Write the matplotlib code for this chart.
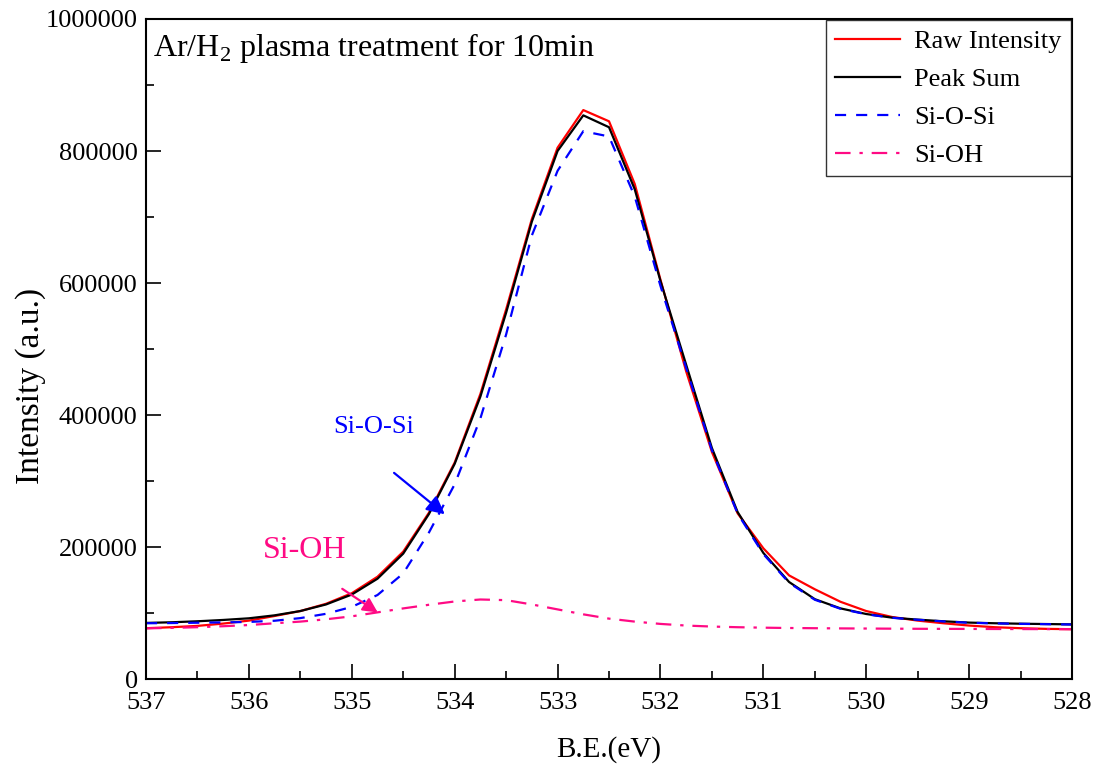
import matplotlib
matplotlib.use('Agg')
import matplotlib.pyplot as plt
from matplotlib.ticker import MultipleLocator, FuncFormatter
import numpy as np

plt.rcParams['font.family'] = ['Liberation Serif', 'DejaVu Serif']
plt.rcParams['mathtext.fontset'] = 'custom'
plt.rcParams['mathtext.rm'] = 'Liberation Serif'

RED = '#FF0000'; BLACK = '#000000'; BLUE = '#0000FF'; PINK = '#FF0A84'

# binding energy (eV), 0.25 eV steps
be = np.arange(537.0, 527.99, -0.25)

raw = [77000, 78500, 80500, 84000, 88500, 95500, 103000, 114000, 130000, 155000,
       193000, 252000, 328000, 432000, 560000, 697000, 805000, 862000, 845000, 750000,
       605000, 466000, 344000, 251000, 198000, 157000, 136000, 117000, 103000, 94000,
       88500, 84500, 81000, 78500, 77000, 76000, 75500]

peak_sum = [85000, 86000, 87500, 89500, 92000, 96500, 103000, 113000, 128000, 152000,
            190000, 250000, 326000, 428000, 555000, 693000, 800000, 854000, 836000, 742000,
            603000, 476000, 350000, 253000, 191000, 147000, 121000, 107000, 98500, 93000,
            90000, 87500, 85500, 84500, 83800, 83300, 82800]

si_o_si = [84500, 84800, 85300, 85800, 86500, 88300, 92300, 98800, 109300, 127300,
           160000, 222000, 295000, 395000, 522000, 672000, 770000, 830000, 822000, 731000,
           595600, 471100, 346600, 250600, 189300, 145800, 120100, 106400, 98100, 92800,
           89800, 87300, 85300, 84300, 83600, 83100, 82600]

si_oh = [76800, 77500, 78500, 80000, 81800, 84500, 87000, 90500, 95000, 101000,
         107000, 112500, 117500, 120500, 119500, 113000, 105500, 98000, 91500, 87000,
         83500, 81000, 79500, 78500, 77800, 77300, 77000, 76700, 76500, 76300,
         76100, 76000, 75900, 75800, 75700, 75600, 75500]

fig = plt.figure(figsize=(11.01, 7.69), dpi=100)
ax = fig.add_axes([0.1326, 0.117, 0.8411, 0.8583])

ax.plot(be, raw, color=RED, lw=1.6, label='Raw Intensity')
ax.plot(be, peak_sum, color=BLACK, lw=1.6, label='Peak Sum')
ax.plot(be, si_o_si, color=BLUE, lw=1.6, ls=(0, (5, 4.5)), label='Si-O-Si')
ax.plot(be, si_oh, color=PINK, lw=1.6, ls=(0, (7, 4, 1.5, 4)), label='Si-OH')

ax.set_xlim(537, 528)
ax.set_ylim(0, 1000000)
ax.xaxis.set_major_locator(MultipleLocator(1))
ax.xaxis.set_minor_locator(MultipleLocator(0.5))
ax.yaxis.set_major_locator(MultipleLocator(200000))
ax.yaxis.set_minor_locator(MultipleLocator(100000))
ax.xaxis.set_major_formatter(FuncFormatter(lambda v, p: f'{v:.0f}'))
ax.yaxis.set_major_formatter(FuncFormatter(lambda v, p: f'{v:.0f}'))
ax.tick_params(which='both', direction='in', top=False, right=False, labelsize=19, width=1.2)
ax.tick_params(which='major', length=11)
ax.tick_params(which='minor', length=6)
ax.tick_params(axis='x', pad=9)
ax.tick_params(axis='y', pad=6)
for s in ax.spines.values():
    s.set_linewidth(1.5)

ax.set_xlabel('B.E.(eV)', fontsize=21, labelpad=16)
ax.set_ylabel('Intensity (a.u.)', fontsize=24)
ax.yaxis.set_label_coords(-0.108, 0.444)

ax.text(0.008, 0.982, 'Ar/H$_2$ plasma treatment for 10min', transform=ax.transAxes,
        fontsize=23, va='top', ha='left')

leg = ax.legend(loc='upper right', fontsize=19, frameon=True, fancybox=False,
                borderaxespad=0.05, handlelength=2.45, handletextpad=0.55,
                labelspacing=0.55, borderpad=0.35)
leg.get_frame().set_edgecolor('black')
leg.get_frame().set_linewidth(1.0)

ax.annotate('', xy=(534.075, 247000), xytext=(534.61, 315000),
            arrowprops=dict(arrowstyle='-|>', color=BLUE, lw=1.6, mutation_scale=27))
ax.text(534.79, 382000, 'Si-O-Si', color=BLUE, fontsize=19, ha='center', va='center')

ax.annotate('', xy=(534.725, 98500), xytext=(535.115, 139000),
            arrowprops=dict(arrowstyle='-|>', color=PINK, lw=1.6, mutation_scale=22))
ax.text(535.455, 194000, 'Si-OH', color=PINK, fontsize=23, ha='center', va='center')

fig.savefig('out.png', dpi=100)
